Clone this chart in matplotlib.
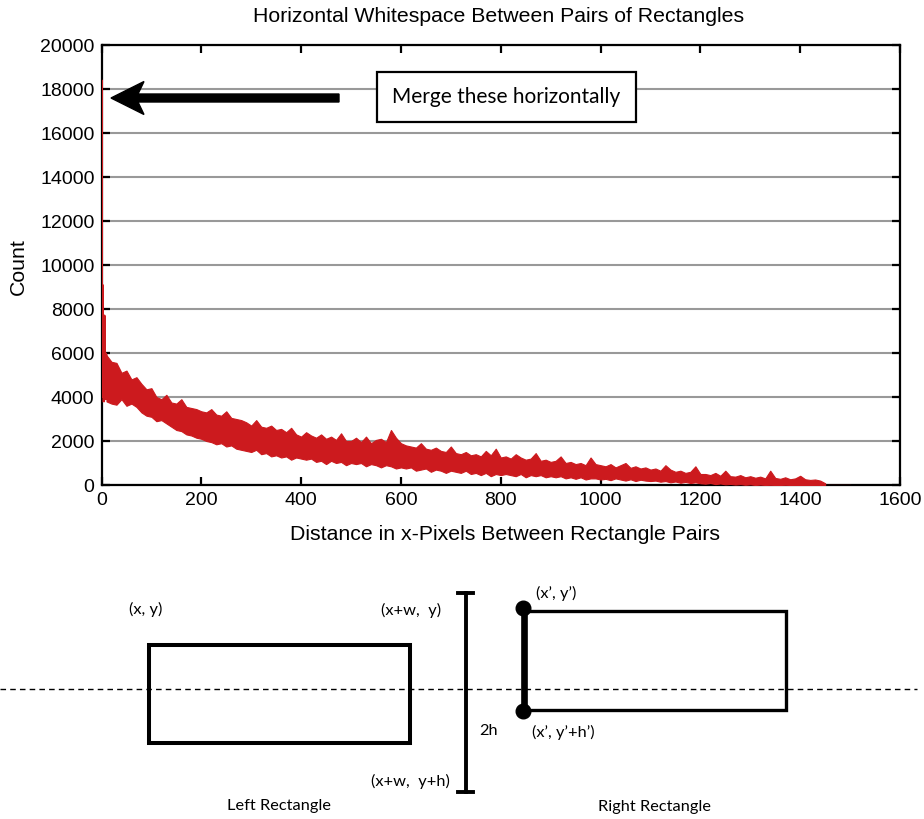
import numpy as np
import matplotlib.pyplot as plt
from matplotlib.patches import Rectangle, Polygon, Circle

# first few bins (very tall spike at zero distance)
head_x = [0, 0, 1, 2, 3, 4, 5, 6, 7, 8, 9, 10]
head_count = [3800, 18400, 4200, 9100, 4000, 7700, 3800, 7700, 4000, 6000, 3900, 5900]

# noisy band, read as upper / lower edge every 10 px
band_x = np.arange(10, 1451, 10)
band_upper = [
    5900, 5600, 5550, 5100, 5200, 4800, 4900, 4600, 4350, 4400,
    4000, 3900, 4100, 3750, 3700, 3900, 3550, 3500, 3450, 3350,
    3300, 3450, 3200, 3150, 3350, 3050, 3000, 2950, 2850, 2700,
    2950, 2650, 2600, 2700, 2500, 2550, 2400, 2600, 2300, 2200,
    2400, 2250, 2150, 2300, 2100, 2200, 2050, 2350, 2000, 2000,
    2150, 1950, 2200, 1900, 2050, 2100, 1950, 2500, 2150, 1900,
    1800, 1750, 1700, 1900, 1650, 1600, 1700, 1550, 1500, 1750,
    1450, 1400, 1500, 1350, 1400, 1300, 1550, 1350, 1650, 1250,
    1300, 1200, 1400, 1250, 1150, 1200, 1450, 1100, 1150, 1050,
    1100, 1300, 1000, 1050, 950, 1000, 900, 1250, 950, 900,
    850, 950, 800, 900, 1000, 780, 850, 750, 800, 700,
    750, 650, 900, 700, 600, 650, 550, 600, 850, 500,
    500, 450, 550, 420, 650, 400, 380, 450, 350, 400,
    330, 380, 300, 650, 320, 280, 350, 260, 300, 420,
    260, 230, 250, 200, 80,
]
band_lower = [
    3800, 3700, 3650, 3900, 3600, 3700, 3550, 3300, 3150, 3100,
    2900, 2950, 2800, 2650, 2500, 2450, 2300, 2250, 2150, 2100,
    2000, 1950, 1850, 1900, 1750, 1800, 1650, 1600, 1550, 1500,
    1600, 1400, 1450, 1300, 1350, 1250, 1300, 1150, 1250, 1200,
    1150, 1200, 1050, 1100, 950, 1100, 1000, 1050, 900, 1000,
    950, 1000, 850, 950, 900, 800, 900, 850, 750, 800,
    750, 800, 650, 700, 750, 600, 700, 650, 550, 650,
    600, 550, 650, 500, 550, 450, 550, 400, 500, 450,
    500, 450, 400, 500, 350, 450, 400, 450, 350, 400,
    350, 400, 300, 350, 280, 350, 250, 300, 300, 250,
    280, 220, 300, 250, 200, 260, 180, 240, 200, 180,
    200, 150, 180, 120, 160, 100, 140, 90, 120, 80,
    60, 90, 40, 70, 30, 50, 20, 40, 10, 30,
    0, 20, 0, 10, 0, 0, 10, 0, 0, 0,
    0, 0, 0, 0, 0,
]
tail_x = [1450, 1500]
tail_count = [0, 0]

red = '#cc1a1e'
W, H = 924, 819
axfont = 'Liberation Sans'

fig = plt.figure(figsize=(W / 100, H / 100), dpi=100)
ax = fig.add_axes([101.5 / W, 1 - 485 / H, (900 - 101.5) / W, (485 - 45) / H])

ax.fill_between(band_x, band_lower, band_upper, color=red, lw=0.8, zorder=3)
ax.plot(head_x, head_count, color=red, lw=1.5, zorder=3)
ax.plot(tail_x, tail_count, color=red, lw=1.0, alpha=0.5, zorder=3)

ax.set_xlim(0, 1600)
ax.set_ylim(0, 20000)
ax.set_xticks(range(0, 1601, 200))
ax.set_yticks(range(0, 20001, 2000))
ax.yaxis.grid(True, color='#999999', lw=1.5)
ax.set_axisbelow(True)
for s in ax.spines.values():
    s.set_linewidth(1.6)
ax.tick_params(direction='in', length=6, width=1.6, top=True, right=True,
               labelsize=14, pad=5)
for lab in ax.get_xticklabels() + ax.get_yticklabels():
    lab.set_family(axfont)

fig.text(499 / W, 1 - 17 / H, 'Horizontal Whitespace Between Pairs of Rectangles',
         ha='center', va='center', fontsize=15.3, family=axfont)
fig.text(505 / W, 1 - 534 / H, 'Distance in x-Pixels Between Rectangle Pairs',
         ha='center', va='center', fontsize=15.3, family=axfont)
fig.text(18 / W, 1 - 267 / H, 'Count', rotation=90,
         ha='center', va='center', fontsize=15.3, family=axfont)

# overlay in pixel coordinates for the annotations and the diagram below
ov = fig.add_axes([0, 0, 1, 1], zorder=5)
ov.set_xlim(0, W)
ov.set_ylim(H, 0)
ov.axis('off')

ov.add_patch(Polygon([(111, 98), (144, 81.5), (138, 94), (339, 94), (339, 102),
                      (138, 102), (144, 114.5)], closed=True, color='black'))
ov.add_patch(Rectangle((377, 72), 259, 50, fc='white', ec='black', lw=1.6))
ov.text(506, 97, 'Merge these horizontally', ha='center', va='center',
        fontsize=15, family='Lato')

lbl = dict(ha='center', va='center', fontsize=11.8, family='Lato')

ov.plot([0, 917], [689, 689], color='black', lw=1.0, ls=(0, (4, 3)))
ov.add_patch(Rectangle((148.5, 645), 261.5, 98, fill=False, ec='black', lw=2.9))
ov.plot([465.5, 465.5], [593, 792], color='black', lw=2.8)
ov.plot([458, 473], [593, 593], color='black', lw=2.8)
ov.plot([458, 473], [792, 792], color='black', lw=2.8)
ov.add_patch(Rectangle((523.5, 610.5), 262, 99, fill=False, ec='black', lw=2.4))
ov.plot([523.5, 523.5], [608, 712], color='black', lw=4.8)
ov.add_patch(Circle((523.5, 608.5), 7.3, color='black'))
ov.add_patch(Circle((523.5, 711.5), 7.3, color='black'))

ov.text(146, 609, '(x, y)', **lbl)
ov.text(411, 610, '(x+w,  y)', **lbl)
ov.text(410, 781, '(x+w,  y+h)', **lbl)
ov.text(489, 731, '2h', **lbl)
ov.text(279, 806, 'Left Rectangle', **lbl)
ov.text(556, 593, '(x\u2019, y\u2019)', **lbl)
ov.text(563, 732, '(x\u2019, y\u2019+h\u2019)', **lbl)
ov.text(655, 807, 'Right Rectangle', **lbl)

fig.savefig('out.png', dpi=100)
